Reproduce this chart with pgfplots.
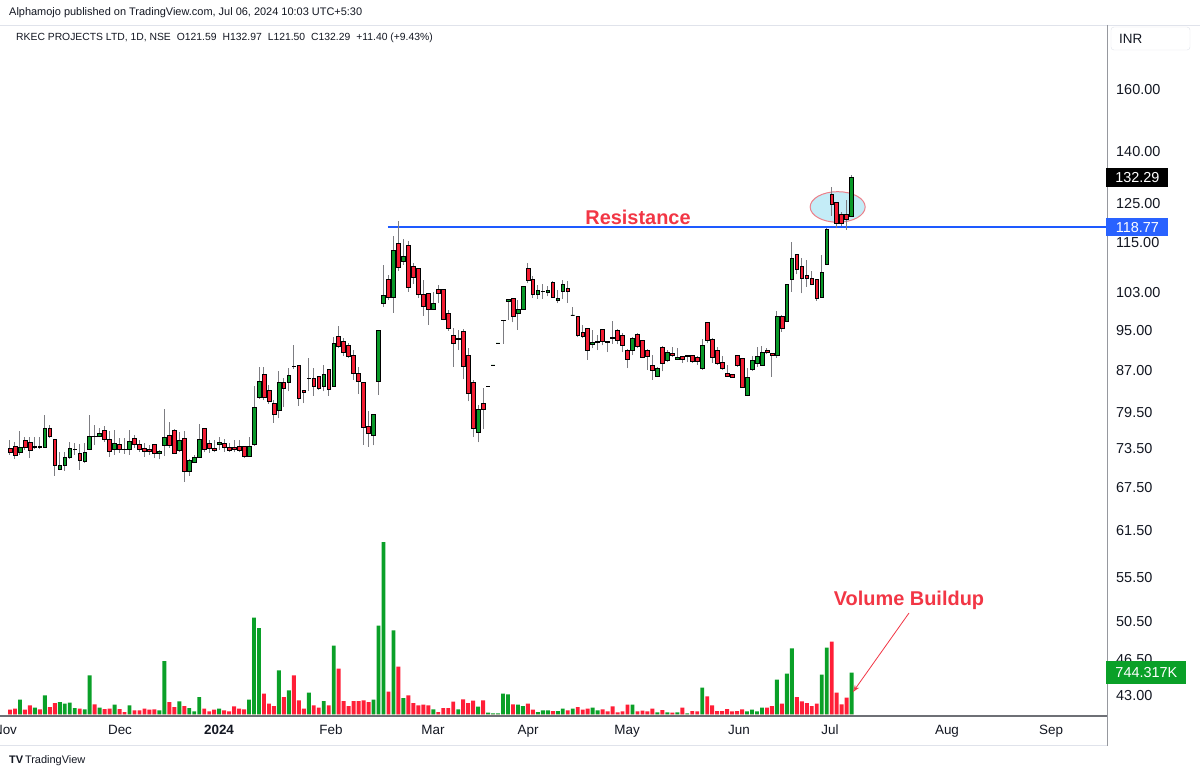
\documentclass[border=0pt]{standalone}
\usepackage{pgfplots}
\pgfplotsset{compat=1.18}
\usepackage{pgfplotstable}
\usetikzlibrary{arrows.meta}
\usepackage{fontspec}
\setmainfont{Liberation Sans}
\definecolor{cgreen}{RGB}{8,153,40}
\definecolor{cred}{RGB}{242,28,50}
\definecolor{vgreen}{RGB}{10,160,40}
\definecolor{vred}{RGB}{255,30,55}
\definecolor{wickc}{RGB}{125,125,130}
\definecolor{tvtext}{RGB}{19,23,34}
\definecolor{axgray}{RGB}{110,112,118}
\definecolor{raxgray}{RGB}{150,152,158}
\definecolor{tvblue}{RGB}{41,98,255}
\definecolor{resblue}{RGB}{30,90,255}
\definecolor{annred}{RGB}{242,54,69}
\definecolor{ellfill}{RGB}{196,236,247}
\definecolor{ellline}{RGB}{236,128,138}
\definecolor{lightline}{RGB}{224,227,235}
\newcommand\fs[1]{\fontsize{#1}{#1}\selectfont}

\pgfplotstableread{
i O H L C V
1 73.6 74.8 72.5 72.9 84
2 73.9 74.6 71.9 72.5 102
3 72.9 76.3 72.5 73.7 262
4 74.8 75.3 73.3 73.7 84
5 74.5 75.4 72.0 73.2 161
6 73.7 75.3 73.4 73.8 120
7 73.8 75.3 73.4 73.7 89
8 73.7 79.0 73.6 76.8 339
9 76.8 77.4 75.2 75.4 130
10 75.0 75.1 69.3 70.8 202
11 70.2 72.9 70.1 70.8 220
12 70.8 73.0 70.0 72.1 191
13 72.1 74.6 71.8 73.5 209
14 73.3 74.4 72.5 73.4 112
15 72.7 74.2 70.2 71.6 102
16 71.5 74.4 71.2 72.9 89
17 73.4 79.0 73.3 75.5 696
18 75.5 77.4 74.1 75.4 179
19 75.4 76.8 75.3 76.0 120
20 76.4 77.1 74.6 75.0 95
21 75.0 76.3 72.2 73.0 102
22 73.3 76.5 72.5 74.4 173
23 74.2 75.2 72.8 73.4 95
24 73.4 75.2 72.7 73.3 41
25 73.3 76.5 72.5 74.6 161
26 75.2 75.7 73.6 74.2 71
27 74.2 74.9 73.0 73.3 71
28 73.6 74.4 72.2 73.0 102
29 73.4 74.0 72.5 73.0 84
30 74.1 74.2 72.0 72.7 89
31 72.7 73.3 71.8 73.1 71
32 74.0 80.0 72.3 75.3 951
33 75.7 77.9 73.6 74.0 220
34 76.5 76.6 72.7 72.8 130
35 73.2 76.1 73.0 74.8 232
36 75.1 76.4 68.4 69.9 148
37 69.9 71.8 69.3 71.7 112
38 71.3 72.5 71.2 72.1 54
39 72.1 77.5 72.0 75.0 309
40 76.8 76.9 72.9 73.4 102
41 74.4 74.8 72.8 73.5 54
42 73.6 74.9 72.9 73.2 84
43 74.1 75.4 73.3 74.5 102
44 74.4 75.0 73.0 73.7 71
45 73.7 74.4 73.0 73.2 54
46 73.7 74.9 72.9 73.3 143
47 73.9 74.9 72.9 73.2 102
48 73.8 73.9 72.0 72.2 89
49 72.3 75.4 72.2 73.8 262
50 74.1 84.1 73.9 80.4 1726
51 82.1 87.8 81.9 85.0 1540
52 86.3 87.8 81.6 82.1 369
53 83.4 84.4 81.0 81.4 191
54 81.1 81.7 77.7 79.2 148
55 79.9 86.9 78.5 84.8 785
56 84.9 85.6 80.4 83.7 309
57 84.8 87.5 83.2 86.1 428
58 87.9 91.9 87.3 87.8 696
59 88.0 88.1 80.6 82.0 250
60 83.3 83.5 81.1 83.1 102
61 85.5 89.4 83.2 85.6 387
62 85.6 87.5 82.4 84.1 161
63 85.9 86.1 83.5 83.8 120
64 84.1 88.1 83.2 86.3 237
65 87.2 87.3 82.4 83.6 161
66 84.1 93.7 84.0 92.4 1226
67 93.8 95.9 91.3 91.7 816
68 92.8 93.3 89.8 90.6 237
69 91.9 92.4 89.4 89.8 148
70 90.0 91.0 85.3 86.6 237
71 86.6 87.8 82.7 85.0 237
72 84.8 84.9 74.1 77.0 250
73 77.1 79.8 73.8 75.9 220
74 75.6 79.3 74.0 79.2 262
75 85.0 95.1 82.6 94.9 1583
76 100.8 109.5 100.0 102.4 3076
77 106.0 107.0 101.5 102.1 405
78 102.1 116.6 98.7 112.9 1499
79 114.6 120.3 108.1 108.9 851
80 110.2 115.8 109.5 111.6 291
81 114.3 115.2 103.3 104.3 339
82 109.1 109.8 105.1 106.6 202
83 108.7 108.8 101.9 102.6 161
84 102.6 106.0 98.0 100.0 173
85 102.8 103.0 96.1 99.3 161
86 99.5 103.3 99.3 100.8 89
87 103.7 104.8 100.8 103.0 41
88 103.7 103.8 97.1 97.3 112
89 98.6 99.3 94.9 95.4 112
90 94.0 95.4 87.8 92.3 227
91 93.2 95.1 91.0 93.3 89
92 94.7 95.2 85.4 87.8 268
93 90.0 91.3 81.4 82.9 202
94 84.8 85.3 75.4 76.8 245
95 76.2 80.8 74.5 80.0 137
96 81.0 83.8 76.6 80.0 250
97 84.1 84.1 84.1 84.1 30
98 88.1 88.1 88.1 88.1 18
99 92.4 92.4 92.4 92.4 18
100 97.0 97.1 92.2 97.1 369
101 101.2 101.6 97.1 101.6 357
102 101.7 101.8 96.6 98.0 179
103 98.6 101.5 95.1 99.4 173
104 99.5 104.5 99.3 104.5 148
105 108.7 109.8 105.2 105.8 191
106 106.0 106.8 101.9 102.6 84
107 102.6 104.8 101.7 103.5 41
108 103.3 105.0 101.7 103.4 71
109 103.1 104.5 102.2 103.5 71
110 105.5 105.6 101.9 102.1 59
111 101.4 103.7 100.7 101.7 59
112 103.4 106.0 101.7 105.0 102
113 104.1 105.8 100.8 103.3 71
114 98.2 100.0 98.0 98.2 102
115 97.8 97.9 93.5 94.0 130
116 94.6 96.0 93.3 93.7 84
117 95.4 95.5 89.1 91.0 102
118 92.2 95.1 91.3 92.5 120
119 92.5 94.0 91.0 92.7 71
120 95.1 95.2 91.9 92.7 89
121 92.7 92.8 90.6 92.5 54
122 93.5 96.9 92.2 93.3 143
123 94.9 95.2 92.1 93.0 36
124 94.0 94.4 90.6 92.0 54
125 91.0 91.1 87.5 89.2 173
126 90.9 93.5 90.0 93.4 173
127 94.2 94.4 91.3 91.7 54
128 92.9 93.0 89.4 89.6 66
129 91.0 91.1 87.2 89.7 54
130 88.1 90.0 85.3 87.1 102
131 86.0 87.7 85.8 87.5 36
132 91.6 91.7 86.9 88.5 77
133 88.9 91.0 88.6 90.6 36
134 90.3 91.5 89.6 90.0 30
135 89.2 91.3 89.1 89.6 36
136 89.7 89.8 88.5 89.1 120
137 89.7 89.9 88.6 89.9 18
138 89.9 90.0 88.5 88.8 59
139 89.6 89.9 88.1 88.8 54
140 87.5 93.2 87.2 91.9 477
141 96.6 96.7 92.3 92.9 321
142 93.2 93.3 88.5 89.6 161
143 91.0 91.5 88.1 88.5 59
144 88.6 89.9 87.2 87.5 59
145 86.5 88.0 85.8 85.9 95
146 86.3 86.4 85.7 85.8 54
147 89.9 90.0 87.8 88.0 59
148 89.4 89.5 83.8 84.0 89
149 82.4 87.6 82.3 85.7 54
150 87.2 89.8 87.0 89.0 84
151 88.5 91.5 87.8 89.8 54
152 88.1 91.7 88.0 90.5 120
153 91.0 91.3 90.2 90.6 120
154 90.4 90.5 85.9 89.9 148
155 89.9 99.1 89.5 97.8 619
156 98.0 98.1 94.7 95.4 191
157 96.9 105.1 96.7 105.0 726
158 106.0 115.0 103.3 111.0 1178
159 112.0 112.1 107.2 108.5 309
160 109.1 111.0 102.9 106.4 232
161 107.0 110.7 104.4 106.2 202
162 106.4 107.9 104.7 105.0 148
163 106.0 106.1 101.3 101.9 191
164 102.0 111.9 101.9 107.8 709
165 109.5 118.6 109.4 118.3 1191
166 127.5 129.6 121.8 124.8 1298
167 125.3 125.4 118.5 119.9 387
168 122.1 122.8 119.2 119.9 179
169 122.1 126.0 118.1 120.89 298
170 121.59 132.97 121.50 132.29 744.317
}\data

\pgfplotstableread{
x y
76.9 118.77
221.28 118.77
}\resline

\begin{document}
\begin{tikzpicture}[x=1bp,y=1bp]
\useasboundingbox (0,0) rectangle (1200,-776);
\fill[white] (0,0) rectangle (1200,-776);

% frame lines
\draw[lightline, line width=0.8bp] (0,-25) -- (1200,-25);
\draw[lightline, line width=0.8bp] (0,-745.5) -- (1107,-745.5);
\draw[raxgray, line width=1.2bp] (1107.3,-25) -- (1107.3,-746);

% header
\node[anchor=west, text=tvtext, font=\fs{11}, inner sep=0] at (9,-12.5)
  {Alphamojo published on TradingView.com, Jul 06, 2024 10:03 UTC+5:30};
\node[anchor=west, text=tvtext, font=\fs{10.4}, inner sep=0] at (16,-37.5)
  {RKEC PROJECTS LTD, 1D, NSE\hspace{6bp}O121.59\hspace{6bp}H132.97\hspace{6bp}L121.50\hspace{6bp}C132.29\hspace{6bp}+11.40 (+9.43\%)};

\pgfplotstablegetrowsof{\data}
\pgfmathtruncatemacro{\nlast}{\pgfplotsretval-1}

% volume pane
\begin{axis}[
  at={(0bp,-25bp)}, anchor=north west,
  scale only axis, width=1107bp, height=691bp,
  xmin=-1.008, xmax=221.28,
  ymin=-30, ymax=12304,
  axis lines=none, ticks=none, clip=true,
]
\addplot[ybar, bar width=3.9bp, bar shift=0pt, fill=vgreen, draw=none]
  table[x=i, y expr={(\thisrow{C}>=\thisrow{O})*\thisrow{V}}]{\data};
\addplot[ybar, bar width=3.9bp, bar shift=0pt, fill=vred, draw=none]
  table[x=i, y expr={(\thisrow{C}<\thisrow{O})*\thisrow{V}}]{\data};
\coordinate (volc) at (axis cs:221.28,744.317);
\end{axis}

% price pane
\begin{axis}[
  at={(0bp,-25bp)}, anchor=north west,
  scale only axis, width=1107bp, height=691bp,
  xmin=-1.008, xmax=221.28,
  ymode=log, ymin=41.14, ymax=184.2,
  axis x line*=bottom, axis y line*=right,
  x axis line style={axgray, line width=1.3bp, -},
  y axis line style={draw=none},
  major tick length=0pt,
  xtick={0.0,23.09,42.97,65.46,85.94,105.02,124.90,147.39,165.66,189.15,210.04},
  xticklabels={Nov,Dec,\textbf{2024},Feb,Mar,Apr,May,Jun,Jul,Aug,Sep},
  xticklabel style={font=\fs{13.5}, text=tvtext, inner sep=0pt, anchor=north},
  xticklabel shift=9bp,
  ytick={43,46.5,50.5,55.5,61.5,67.5,73.5,79.5,87,95,103,115,125,140,160},
  yticklabels={43.00,46.50,50.50,55.50,61.50,67.50,73.50,79.50,87.00,95.00,103.00,115.00,125.00,140.00,160.00},
  yticklabel pos=right,
  yticklabel style={font=\fs{14.5}, text=tvtext, inner sep=0pt, anchor=west},
  yticklabel shift=9bp,
]
\addplot[color=resblue, solid, mark=none, line width=1.5bp, forget plot] table[x=x, y=y]{\resline};
\draw[ellline, fill=ellfill, line width=1bp] (axis cs:167.2,124.1) ellipse [x radius=27.5bp, y radius=15.3bp];
\pgfplotsforeachungrouped \rowidx in {0,...,\nlast}{%
  \pgfplotstablegetelem{\rowidx}{i}\of{\data}\let\cdI\pgfplotsretval
  \pgfplotstablegetelem{\rowidx}{O}\of{\data}\let\cdO\pgfplotsretval
  \pgfplotstablegetelem{\rowidx}{H}\of{\data}\let\cdH\pgfplotsretval
  \pgfplotstablegetelem{\rowidx}{L}\of{\data}\let\cdL\pgfplotsretval
  \pgfplotstablegetelem{\rowidx}{C}\of{\data}\let\cdC\pgfplotsretval
  \pgfmathtruncatemacro{\isup}{\cdC>=\cdO}%
  \ifnum\isup=1 \def\bodycol{cgreen}\else\def\bodycol{cred}\fi
  \pgfmathsetmacro{\xa}{\cdI-0.38}%
  \pgfmathsetmacro{\xb}{\cdI+0.38}%
  \edef\temp{%
    \noexpand\addplot[draw=wickc, line width=1bp, forget plot] coordinates {(\cdI,\cdL) (\cdI,\cdH)};
    \noexpand\addplot[draw=black, line width=0.6bp, fill=\bodycol, forget plot] coordinates {(\xa,\cdO) (\xb,\cdO) (\xb,\cdC) (\xa,\cdC)} -- cycle;
  }%
  \temp
}
\coordinate (lastc) at (axis cs:221.28,132.29);
\coordinate (resc) at (axis cs:221.28,118.77);
\end{axis}

% price scale labels
\node[fill=black, text=white, font=\fs{14.5}, minimum width=62bp, minimum height=19.5bp, inner sep=0, anchor=west] at ([xshift=-0.8bp]lastc) {132.29};
\node[fill=tvblue, text=white, font=\fs{14.5}, minimum width=62bp, minimum height=18.5bp, inner sep=0, anchor=west] at ([xshift=-0.8bp]resc) {118.77};
\node[fill=vgreen, text=white, font=\fs{14.5}, minimum width=80bp, minimum height=23bp, inner sep=0, anchor=west] at ([xshift=-0.8bp]volc) {744.317K};
\draw[lightline, rounded corners=3bp, fill=white] (1111,-27) rectangle (1190,-50);
\node[anchor=west, text=tvtext, font=\fs{13.5}, inner sep=0] at (1119,-38.5) {INR};

% annotations
\node[text=annred, font=\fs{20}\bfseries, inner sep=0] at (638,-217) {Resistance};
\node[text=annred, font=\fs{20}\bfseries, inner sep=0] at (909,-600) {Volume Buildup};
\draw[annred, line width=0.8bp, -{Stealth[length=7bp, width=5bp, open]}] (909,-613) -- (853,-692);

% footer
\node[anchor=west, text=tvtext, font=\fs{11}, inner sep=0] at (9,-761) {\textbf{TV}\,TradingView};
\end{tikzpicture}
\end{document}
